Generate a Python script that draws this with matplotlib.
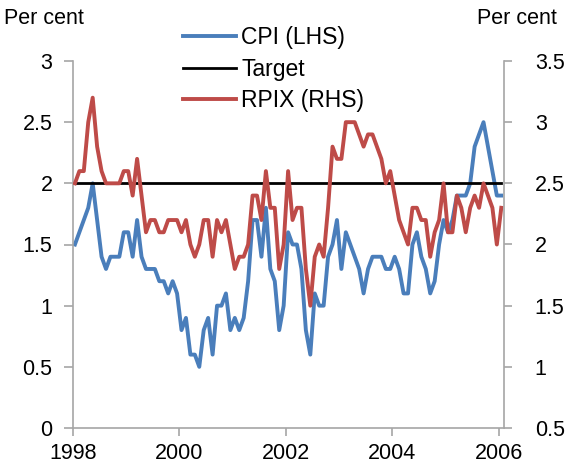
import numpy as np
import matplotlib
matplotlib.use("Agg")
import matplotlib.pyplot as plt

plt.rcParams['font.family'] = ['Liberation Sans', 'DejaVu Sans']

# monthly data, Jan 1998 - Jan 2006
start_year = 1998
cpi = [1.5, 1.6, 1.7, 1.8, 2.0, 1.7, 1.4, 1.3, 1.4, 1.4, 1.4, 1.6,
       1.6, 1.4, 1.7, 1.4, 1.3, 1.3, 1.3, 1.2, 1.2, 1.1, 1.2, 1.1,
       0.8, 0.9, 0.6, 0.6, 0.5, 0.8, 0.9, 0.6, 1.0, 1.0, 1.1, 0.8,
       0.9, 0.8, 0.9, 1.2, 1.7, 1.7, 1.4, 1.8, 1.3, 1.2, 0.8, 1.0,
       1.6, 1.5, 1.5, 1.3, 0.8, 0.6, 1.1, 1.0, 1.0, 1.4, 1.5, 1.7,
       1.3, 1.6, 1.5, 1.4, 1.3, 1.1, 1.3, 1.4, 1.4, 1.4, 1.3, 1.3,
       1.4, 1.3, 1.1, 1.1, 1.5, 1.6, 1.4, 1.3, 1.1, 1.2, 1.5, 1.7,
       1.6, 1.7, 1.9, 1.9, 1.9, 2.0, 2.3, 2.4, 2.5, 2.3, 2.1, 1.9,
       1.9]
rpix = [2.5, 2.6, 2.6, 3.0, 3.2, 2.8, 2.6, 2.5, 2.5, 2.5, 2.5, 2.6,
        2.6, 2.4, 2.7, 2.4, 2.1, 2.2, 2.2, 2.1, 2.1, 2.2, 2.2, 2.2,
        2.1, 2.2, 2.0, 1.9, 2.0, 2.2, 2.2, 1.9, 2.2, 2.1, 2.2, 2.0,
        1.8, 1.9, 1.9, 2.0, 2.4, 2.4, 2.2, 2.6, 2.3, 2.3, 1.8, 2.0,
        2.6, 2.2, 2.3, 2.3, 1.8, 1.5, 1.9, 2.0, 1.9, 2.3, 2.8, 2.7,
        2.7, 3.0, 3.0, 3.0, 2.9, 2.8, 2.9, 2.9, 2.8, 2.7, 2.5, 2.6,
        2.4, 2.2, 2.1, 2.0, 2.3, 2.3, 2.2, 2.2, 1.9, 2.1, 2.2, 2.5,
        2.1, 2.1, 2.4, 2.3, 2.1, 2.3, 2.4, 2.3, 2.5, 2.4, 2.3, 2.0,
        2.3]
target = 2.0

left_ticks = [0, 0.5, 1, 1.5, 2, 2.5, 3]
left_labels = ["0", "0.5", "1", "1.5", "2", "2.5", "3"]
right_ticks = [0.5, 1, 1.5, 2, 2.5, 3, 3.5]
right_labels = ["0.5", "1", "1.5", "2", "2.5", "3", "3.5"]
year_ticks = [1998, 2000, 2002, 2004, 2006]

n = len(cpi)
# points sit in the middle of each month
t = start_year + (np.arange(n) + 0.5) / 12.0

blue = "#4A7EBB"
red = "#BE4B48"
grey = "#A6A6A6"
fs = 15.5

fig = plt.figure(figsize=(5.67, 4.68), dpi=100)
ax1 = fig.add_axes([72.7 / 567, 1 - 428 / 468, (503.5 - 72.7) / 567, (428 - 61) / 468])
ax2 = ax1.twinx()

l1, = ax1.plot(t, cpi, color=blue, lw=2.8, label="CPI (LHS)", solid_joinstyle="round")
l2, = ax1.plot(t, [target] * n, color="black", lw=2.0, label="Target")
l3, = ax2.plot(t, rpix, color=red, lw=2.8, label="RPIX (RHS)", solid_joinstyle="round")

ax1.set_xlim(start_year, start_year + n / 12.0)
ax1.set_ylim(0, 3)
ax2.set_ylim(0.5, 3.5)

ax1.set_xticks(year_ticks)
ax1.set_xticklabels([str(y) for y in year_ticks])
ax1.set_yticks(left_ticks)
ax1.set_yticklabels(left_labels)
ax2.set_yticks(right_ticks)
ax2.set_yticklabels(right_labels)

for ax in (ax1, ax2):
    ax.spines["top"].set_visible(False)
    for side in ("left", "right", "bottom"):
        ax.spines[side].set_color(grey)
        ax.spines[side].set_linewidth(1.2)
ax1.spines["right"].set_visible(False)
ax2.spines["left"].set_visible(False)
ax2.spines["bottom"].set_visible(False)

ax1.tick_params(axis="y", direction="out", length=6.5, width=1.2, color=grey, pad=8, labelsize=fs)
ax1.tick_params(axis="x", direction="out", length=6, width=1.2, color=grey, pad=5, labelsize=fs)
ax2.tick_params(axis="y", direction="out", length=5.5, width=1.2, color=grey, pad=17, labelsize=fs)

fig.text(4 / 567, 1 - 19 / 468, "Per cent", fontsize=fs, ha="left", va="center")
fig.text(557 / 567, 1 - 19 / 468, "Per cent", fontsize=fs, ha="right", va="center")

leg = ax1.legend(handles=[l1, l2, l3], loc="upper left",
                 bbox_to_anchor=(183 / 567, 1 - 26 / 468), bbox_transform=fig.transFigure,
                 frameon=False, fontsize=16.5, borderpad=0, borderaxespad=0,
                 handlelength=2.3, handletextpad=0.25, labelspacing=0.38)

fig.savefig("out.png", dpi=100)
